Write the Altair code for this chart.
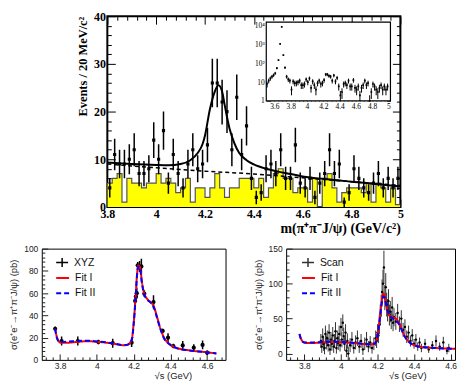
import altair as alt
import pandas as pd

SERIF = "Liberation Serif"
SANS = "Liberation Sans"

# ---------------- top panel: m(pi+pi-J/psi) spectrum ----------------
bin_lo = [round(3.80 + 0.02 * i, 2) for i in range(60)]
counts = [4, 11, 9, 9, 10, 12, 7, 7, 8, 14, 10, 16, 5, 11, 7, 4, 9, 12, 8, 9,
          13, 26, 26, 22, 20, 12, 23, 11, 17, 6, 2, 3, 8, 9, 7, 12, 6, 6, 13, 5,
          4, 6, 2, 5, 7, 12, 7, 9, 1, 3, 8, 6, 4, 3, 5, 7, 4, 6, 4, 6]
sideband = [5, 6, 7, 1, 6, 5, 5, 4, 5, 5, 7, 5, 6, 5, 3, 4, 6, 1, 4, 4,
            2, 4, 7, 4, 2, 4, 4, 6, 6, 6, 4, 6, 2, 4, 7, 8, 6, 6, 3, 4,
            4, 1, 6, 0, 6, 7, 4, 1, 3, 4, 4, 4, 3, 5, 1, 5, 4, 1, 4, 0.5]
fit_x = [3.80, 3.90, 4.00, 4.05, 4.10, 4.14, 4.17, 4.19, 4.20, 4.22, 4.24, 4.255, 4.27,
         4.28, 4.30, 4.32, 4.34, 4.37, 4.40, 4.45, 4.50, 4.55, 4.60, 4.70, 4.80, 4.90, 5.00]
fit_y = [9.3, 9.0, 8.8, 8.75, 9.0, 9.8, 11.3, 13.2, 15.0, 20.5, 24.2, 25.5, 24.2,
         21.5, 16.5, 13.4, 11.3, 9.8, 8.9, 8.0, 7.4, 6.9, 6.4, 5.8, 5.3, 4.8, 4.3]
bkg_x = [3.8, 4.0, 4.2, 4.4, 4.6, 4.8, 5.0]
bkg_y = [9.0, 8.2, 7.5, 6.9, 6.1, 5.3, 4.5]

# inset: wider range (log scale), extra bins below 3.8
extra_lo = [round(3.50 + 0.02 * i, 2) for i in range(15)]
extra_n = [8, 12, 16, 20, 24, 30, 56, 150, 1100, 9000, 280, 60, 20, 14, 12]
inset_x_dom = [3.5, 5.025]
inset_y_dom = [1, 16000]

# ---------------- bottom left: XYZ data ----------------
xyz_x = [3.773, 3.808, 3.896, 4.008, 4.086, 4.189, 4.208, 4.212, 4.217, 4.222, 4.232,
         4.242, 4.258, 4.308, 4.358, 4.387, 4.416, 4.467, 4.527, 4.575, 4.600]
xyz_y = [28, 17, 17, 16, 15, 15.5, 53, 57, 60, 85, 84, 84, 59.5, 52, 26, 20, 12.5, 13, 11, 13.5, 6.5]
xyz_e = [2, 4, 4, 2, 4, 4, 5, 5, 5, 3, 5, 7, 3, 6, 2, 4, 2, 4, 3, 4, 2]
fitL_x = [3.773, 3.78, 3.79, 3.80, 3.82, 3.85, 3.90, 3.95, 4.00, 4.05, 4.10, 4.14, 4.16, 4.175,
          4.19, 4.20, 4.21, 4.218, 4.225, 4.235, 4.245, 4.257, 4.275, 4.295, 4.31, 4.325, 4.345,
          4.365, 4.395, 4.43, 4.50, 4.58, 4.65]
fitIL_y = [28, 22, 17.5, 15.5, 15.3, 15.5, 16.3, 16.8, 16.3, 15.5, 14.3, 13.2, 13.3, 14.5,
           18.5, 33, 55, 76, 85, 83, 70, 60, 54.5, 51.5, 48, 40, 28.5, 20, 14.3, 11, 8.6, 7.2, 5.8]
fitIIL_y = [28, 21, 17, 16, 16.2, 16.5, 17, 17.2, 16.6, 15.8, 14.5, 13.4, 13.5, 14.6,
            18, 32, 54, 75, 84, 82, 69, 59, 54, 51, 47, 39, 28, 19.5, 14, 10.8, 8.5, 7.1, 5.8]

# ---------------- bottom right: scan data ----------------
scan_x = [3.890, 3.895, 3.900, 3.905, 3.910, 3.915, 3.920, 3.925, 3.930, 3.935,
          3.940, 3.945, 3.950, 3.955, 3.960, 3.965, 3.970, 3.975, 3.980, 3.985,
          3.990, 3.995, 4.000, 4.005, 4.010, 4.015, 4.020, 4.025, 4.030, 4.035,
          4.040, 4.050, 4.060, 4.070, 4.080, 4.090, 4.100, 4.110, 4.120, 4.130,
          4.140, 4.150, 4.160, 4.170, 4.180, 4.190, 4.195, 4.200, 4.205, 4.210,
          4.215, 4.220, 4.225, 4.230, 4.235, 4.240, 4.245, 4.250, 4.255, 4.260,
          4.265, 4.270, 4.275, 4.280, 4.285, 4.290, 4.300, 4.310, 4.320, 4.330,
          4.340, 4.350, 4.360, 4.370, 4.380, 4.390, 4.400, 4.410, 4.420, 4.430,
          4.440, 4.460, 4.480, 4.500, 4.520, 4.540, 4.560, 4.580, 4.590]
scan_y = [18, 10, 24, 14, 8, 28, 16, 22, 12, 30,
          6, 20, 14, 26, 10, 18, 32, 8, 22, 15,
          28, 12, 38, 20, 44, 25, 14, 30, 4, 18,
          0, 12, 20, 8, 16, 22, 10, 18, 6, 14,
          20, 10, 16, 8, 14, 22, 18, 30, 26, 42,
          55, 68, 88, 100, 123, 80, 95, 70, 62, 75,
          55, 60, 48, 66, 44, 52, 46, 58, 42, 50,
          34, 38, 24, 30, 18, 26, 14, 20, 10, 16,
          8, 14, 6, 12, 18, 10, 16, 4, 8]
scan_e = [10, 9, 12, 10, 9, 12, 10, 11, 9, 12,
          8, 11, 10, 12, 9, 10, 13, 8, 11, 10,
          12, 9, 13, 11, 12, 12, 10, 12, 9, 11,
          10, 10, 11, 8, 10, 11, 9, 10, 8, 9,
          11, 8, 9, 8, 9, 11, 10, 12, 11, 14,
          15, 16, 18, 20, 24, 18, 20, 17, 16, 17,
          15, 15, 13, 15, 12, 13, 12, 13, 11, 12,
          10, 11, 9, 10, 8, 9, 7, 8, 6, 7,
          6, 7, 5, 6, 8, 6, 8, 5, 6]
fitR_x = [3.773, 3.78, 3.79, 3.80, 3.82, 3.85, 3.90, 3.95, 4.00, 4.05, 4.10, 4.14, 4.17, 4.185,
          4.195, 4.205, 4.215, 4.225, 4.232, 4.24, 4.25, 4.26, 4.27, 4.285, 4.30, 4.315, 4.33,
          4.345, 4.365, 4.39, 4.42, 4.47, 4.53, 4.60, 4.66]
fitIR_y = [28, 22, 17.5, 15.8, 15, 15.2, 16, 16.5, 16.2, 15.4, 14.3, 13.4, 13.2, 14.5,
           20, 35, 58, 78, 86, 80, 66, 57, 53, 51.5, 50, 45, 36, 27, 19, 13.5, 10.5, 8.8, 7.8, 7, 6.5]
fitIIR_y = [28, 21.5, 17, 16, 15.8, 16, 16.6, 17, 16.7, 15.8, 14.6, 13.6, 13.3, 14.2,
            19, 33, 55, 75, 82, 79, 67, 58, 53, 50, 47.5, 43, 35, 26, 18.5, 13.3, 10.3, 8.7, 7.7, 7, 6.5]

# ---------------- data frames ----------------
df_hist = pd.DataFrame({"e": bin_lo + [5.0], "v": sideband + [sideband[-1]]})
df_pts = pd.DataFrame({"x": [round(b + 0.01, 3) for b in bin_lo], "n": counts})
df_pts["lo"] = df_pts["n"] - df_pts["n"] ** 0.5
df_pts["hi"] = df_pts["n"] + df_pts["n"] ** 0.5
df_fit = pd.DataFrame({"x": fit_x, "y": fit_y})
df_bkg = pd.DataFrame({"x": bkg_x, "y": bkg_y})
df_in = pd.DataFrame({"x": [round(b + 0.01, 3) for b in extra_lo + bin_lo], "n": extra_n + counts})
df_in["lo"] = (df_in["n"] - df_in["n"] ** 0.5).clip(lower=1)
df_in["hi"] = df_in["n"] + df_in["n"] ** 0.5
df_frame = pd.DataFrame({"x0": [inset_x_dom[0]], "x1": [inset_x_dom[1]],
                         "y0": [inset_y_dom[0]], "y1": [inset_y_dom[1]]})

df_xyz = pd.DataFrame({"x": xyz_x, "y": xyz_y, "e": xyz_e, "lab": "XYZ"})
df_xyz["lo"] = df_xyz["y"] - df_xyz["e"]
df_xyz["hi"] = df_xyz["y"] + df_xyz["e"]
df_scan = pd.DataFrame({"x": scan_x, "y": scan_y, "e": scan_e, "lab": "Scan"})
df_scan["lo"] = df_scan["y"] - df_scan["e"]
df_scan["hi"] = df_scan["y"] + df_scan["e"]
df_fitL = pd.concat([pd.DataFrame({"x": fitL_x, "y": fitIL_y, "fit": "Fit I"}),
                     pd.DataFrame({"x": fitL_x, "y": fitIIL_y, "fit": "Fit II"})])
df_fitR = pd.concat([pd.DataFrame({"x": fitR_x, "y": fitIR_y, "fit": "Fit I"}),
                     pd.DataFrame({"x": fitR_x, "y": fitIIR_y, "fit": "Fit II"})])


def ticks_axis(vals, orient, offset, big, small=None, test=None, width=1.0, color="black"):
    size = big if test is None else {"condition": {"test": test, "value": big}, "value": small}
    return alt.Axis(values=vals, orient=orient, offset=offset, labels=False, domain=False,
                    grid=False, title=None, ticks=True, tickSize=size,
                    tickWidth=width, tickColor=color)


# ---------------- top chart ----------------
W, H = 295, 192
IX0, IX1 = 160, 285
IY0, IY1 = 6, 85.3
SX = alt.Scale(domain=[3.8, 5.0], nice=False, zero=False)
SY = alt.Scale(domain=[0, 40], nice=False, zero=False)
ISX = alt.Scale(domain=inset_x_dom, range=[IX0, IX1], nice=False, zero=False)
ISY = alt.Scale(type="log", domain=inset_y_dom, range=[IY1, IY0], nice=False, clamp=True)

x_major = [3.8, 4.0, 4.2, 4.4, 4.6, 4.8, 5.0]
x_all = [round(3.8 + 0.04 * i, 2) for i in range(31)]
y_major = [0, 10, 20, 30, 40]
y_all = list(range(0, 41, 2))
TX = "abs(datum.value * 5 - round(datum.value * 5)) < 0.001"
TY = "datum.value % 10 == 0"

lab_x = alt.Axis(values=x_major, orient="bottom", ticks=False, tickSize=0, domain=False, grid=False,
                 format="~g", labelFont=SERIF, labelFontWeight="bold", labelFontSize=12,
                 labelColor="black", labelPadding=2, labelFlush=False, labelOverlap=False,
                 title="m(π⁺π⁻J/ψ) (GeV/c²)", titleFont=SERIF, titleFontWeight="bold",
                 titleFontSize=14, titleColor="black", titleAnchor="end", titlePadding=2)
lab_y = alt.Axis(values=y_major, orient="left", ticks=False, tickSize=0, domain=False, grid=False,
                 labelFont=SERIF, labelFontWeight="bold", labelFontSize=12, labelColor="black",
                 labelPadding=2, labelFlush=False, labelOverlap=False,
                 title="Events / 20 MeV/c²", titleFont=SERIF, titleFontWeight="bold",
                 titleFontSize=12.5, titleColor="black", titleAnchor="end", titlePadding=4)

area = alt.Chart(df_hist).mark_area(interpolate="step-after", color="#ffff00", clip=True).encode(
    x=alt.X("e:Q", scale=SX, axis=lab_x), y=alt.Y("v:Q", scale=SY, axis=lab_y))
outline = alt.Chart(df_hist).mark_line(interpolate="step-after", color="#555555",
                                        strokeWidth=1.2, clip=True).encode(
    x=alt.X("e:Q", scale=SX, axis=ticks_axis(x_all, "top", -H, 8, 4, TX)),
    y=alt.Y("v:Q", scale=SY, axis=ticks_axis(y_all, "right", -W, 8, 4, TY)))
fit = alt.Chart(df_fit).mark_line(color="black", strokeWidth=2, interpolate="monotone",
                                  clip=True).encode(
    x=alt.X("x:Q", scale=SX, axis=ticks_axis(x_all, "bottom", -H, 8, 4, TX)),
    y=alt.Y("y:Q", scale=SY, axis=ticks_axis(y_all, "left", -W, 8, 4, TY)))
bkg = alt.Chart(df_bkg).mark_line(color="black", strokeWidth=1.5, strokeDash=[4, 3],
                                  interpolate="monotone", clip=True).encode(
    x=alt.X("x:Q", scale=SX, axis=None), y=alt.Y("y:Q", scale=SY, axis=None))
bars = alt.Chart(df_pts).mark_rule(color="black", strokeWidth=1.5, clip=True).encode(
    x=alt.X("x:Q", scale=SX, axis=None), y=alt.Y("lo:Q", scale=SY, axis=None), y2="hi:Q")
dots = alt.Chart(df_pts).mark_square(color="black", size=10, opacity=1, clip=True).encode(
    x=alt.X("x:Q", scale=SX, axis=None), y=alt.Y("n:Q", scale=SY, axis=None))

ix_major = [3.6, 3.8, 4.0, 4.2, 4.4, 4.6, 4.8, 5.0]
ix_all = [round(3.55 + 0.05 * i, 2) for i in range(30)]
iy_major = [1, 10, 100, 1000, 10000]
inset_lab_x = alt.Axis(values=ix_major, orient="bottom", offset=IY1 - H, ticks=False, tickSize=0,
                       domain=False, grid=False, format="~g", labelFont=SERIF, labelFontSize=7.5,
                       labelColor="black", labelPadding=2, labelFlush=False, labelOverlap=False,
                       title=None)
inset_lab_y = alt.Axis(values=iy_major, orient="left", offset=-IX0, ticks=False, tickSize=0,
                       domain=False, grid=False, labelFont=SERIF, labelFontSize=7.5,
                       labelColor="black", labelPadding=2, labelFlush=False, labelOverlap=False,
                       labelExpr="datum.value == 1 ? '1' : datum.value == 10 ? '10' : "
                                 "datum.value == 100 ? '10²' : datum.value == 1000 ? '10³' : '10⁴'",
                       title=None)
frame = alt.Chart(df_frame).mark_rect(fill="white", stroke="black", strokeWidth=1.2).encode(
    x=alt.X("x0:Q", scale=ISX, axis=inset_lab_x), x2="x1:Q",
    y=alt.Y("y0:Q", scale=ISY, axis=inset_lab_y), y2="y1:Q")
ibars = alt.Chart(df_in).mark_rule(color="black", strokeWidth=1, clip=True).encode(
    x=alt.X("x:Q", scale=ISX, axis=ticks_axis(ix_all, "top", -IY1, 4, 2, TX)),
    y=alt.Y("lo:Q", scale=ISY, axis=ticks_axis(iy_major, "right", IX0 - W, 4)), y2="hi:Q")
idots = alt.Chart(df_in).mark_square(color="black", size=3, opacity=1, clip=True).encode(
    x=alt.X("x:Q", scale=ISX, axis=ticks_axis(ix_all, "bottom", IY0 - H, 4, 2, TX)),
    y=alt.Y("n:Q", scale=ISY, axis=ticks_axis(iy_major, "left", -IX1, 4)))

top = alt.layer(area, outline, fit, bkg, bars, dots, frame, ibars, idots).resolve_scale(
    x="independent", y="independent").properties(
    width=W, height=H, view=alt.ViewBackground(stroke="black", strokeWidth=2))

# empty cell that pushes the top panel to the right of the lower-left panel's origin
spacer = alt.Chart(pd.DataFrame({"a": [0]})).mark_point(opacity=0).properties(
    width=32, height=10, view=alt.ViewBackground(stroke="transparent"))


# ---------------- bottom charts ----------------
BH = 112
bx_major = [3.8, 4.0, 4.2, 4.4, 4.6]
bx_all = [round(3.72 + 0.04 * i, 2) for i in range(25)]
TXB = "abs(datum.value * 5 - round(datum.value * 5)) < 0.001"
TXT = "#222222"


def bottom_panel(df_data, df_fits, label, bw, xdom, ydom, ymaj, yall, ytest, leg_x, title_x,
                 bar_color, bar_width, dot_size):
    sx = alt.Scale(domain=xdom, nice=False, zero=False)
    sy = alt.Scale(domain=ydom, nice=False, zero=False)
    ax_x = alt.Axis(values=bx_major, orient="bottom", ticks=False, tickSize=0, domain=False,
                    grid=False, format="~g", labelFont=SANS, labelFontSize=8.5, labelColor=TXT,
                    labelPadding=2, labelFlush=False, labelOverlap=False,
                    title="√s (GeV)", titleFont=SANS, titleFontSize=9.5, titleFontWeight="normal",
                    titleColor=TXT, titleX=title_x, titleY=16, titleAlign="center",
                    titleBaseline="middle")
    ax_y = alt.Axis(values=ymaj, orient="left", ticks=False, tickSize=0, domain=False, grid=False,
                    labelFont=SANS, labelFontSize=8.5, labelColor=TXT, labelPadding=4,
                    labelFlush=False, labelOverlap=False,
                    title="σ(e⁺e⁻→π⁺π⁻J/ψ) (pb)", titleFont=SANS, titleFontSize=9.5,
                    titleFontWeight="normal", titleColor=TXT, titlePadding=5)
    leg_pts = alt.Legend(title=None, orient="none", legendX=leg_x, legendY=7, padding=0,
                         symbolType="M-1,0H1M0,-0.75V0.75", symbolSize=144,
                         symbolStrokeWidth=1.5, labelFont=SANS, labelFontSize=10.5,
                         labelColor="#111111", labelOffset=5)
    leg_fit = alt.Legend(title=None, orient="none", legendX=leg_x, legendY=22, padding=0,
                         symbolType="stroke", symbolSize=169, symbolStrokeWidth=2,
                         labelFont=SANS, labelFontSize=10.5, labelColor="#111111",
                         labelOffset=5, rowPadding=2.5)
    ebars = alt.Chart(df_data).mark_rule(strokeWidth=bar_width, clip=True).encode(
        x=alt.X("x:Q", scale=sx, axis=ax_x),
        y=alt.Y("lo:Q", scale=sy, axis=ax_y), y2="hi:Q",
        color=alt.Color("lab:N", scale=alt.Scale(domain=[label], range=[bar_color]),
                        legend=leg_pts))
    pts = alt.Chart(df_data).mark_circle(color="black", size=dot_size, opacity=1, clip=True).encode(
        x=alt.X("x:Q", scale=sx, axis=ticks_axis(bx_all, "top", -BH, 6, 3, TXB, 1, "#222222")),
        y=alt.Y("y:Q", scale=sy, axis=ticks_axis(yall, "right", -bw, 6, 3, ytest, 1, "#222222")))
    fits = alt.Chart(df_fits).mark_line(strokeWidth=2, interpolate="monotone", clip=True).encode(
        x=alt.X("x:Q", scale=sx, axis=None),
        y=alt.Y("y:Q", scale=sy, axis=None),
        color=alt.Color("fit:N", scale=alt.Scale(domain=["Fit I", "Fit II"],
                                                 range=["#ff0000", "#0000ff"]), legend=leg_fit),
        strokeDash=alt.StrokeDash("fit:N", scale=alt.Scale(domain=["Fit I", "Fit II"],
                                                           range=[[1, 0], [5, 3]]),
                                  legend=leg_fit))
    return alt.layer(ebars, pts, fits).resolve_scale(
        x="independent", y="independent", color="independent", strokeDash="independent"
    ).properties(width=bw, height=BH, view=alt.ViewBackground(stroke="black", strokeWidth=1))


bl = bottom_panel(df_xyz, df_fitL, "XYZ", 185, [3.7, 4.7], [0, 100],
                  [0, 20, 40, 60, 80, 100], list(range(0, 101, 4)), "datum.value % 20 == 0",
                  13.5, 132, "black", 1.5, 18)
br = bottom_panel(df_scan, df_fitR, "Scan", 170, [3.7, 4.624], [-9, 150],
                  [0, 50, 100, 150], list(range(0, 151, 10)), "datum.value % 50 == 0",
                  15, 122, "#333333", 1, 6)

chart = alt.vconcat(
    alt.hconcat(spacer, top, spacing=0),
    alt.hconcat(bl, br, spacing=26),
    spacing=7,
).properties(
    padding={"left": 0, "top": 0, "right": 0, "bottom": 0}, background="white"
).configure_view(stroke="transparent")

chart.save("out.html", embed_options={"renderer": "svg", "actions": False})
